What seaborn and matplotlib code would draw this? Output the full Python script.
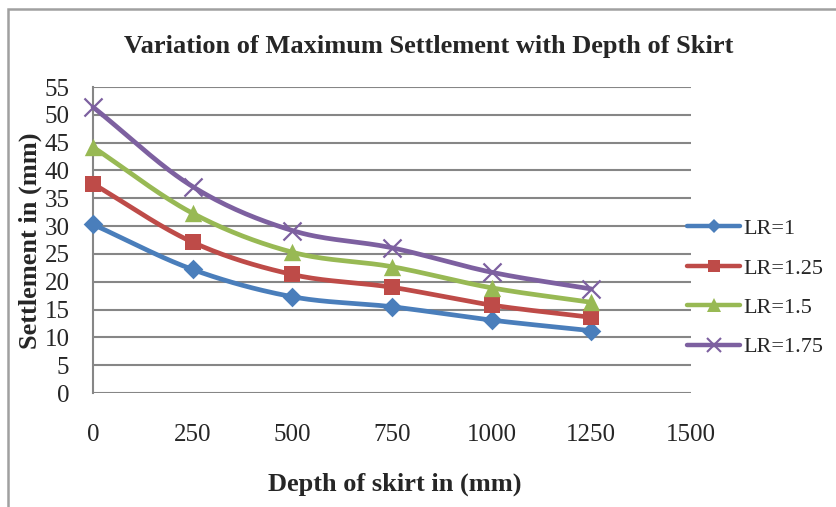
import numpy as np
import pandas as pd
import matplotlib
matplotlib.use("Agg")
import matplotlib.pyplot as plt
from matplotlib.lines import Line2D
from matplotlib.patches import Rectangle
import seaborn as sns

# ---- data ----
depth = [0, 250, 500, 750, 1000, 1250]
lr_1 = [30.3, 22.2, 17.3, 15.5, 13.1, 11.2]
lr_125 = [37.6, 27.1, 21.3, 19.0, 15.8, 13.6]
lr_15 = [44.2, 32.3, 25.3, 22.7, 18.9, 16.3]
lr_175 = [51.4, 37.1, 29.2, 26.1, 21.7, 18.7]
series_names = ["LR=1", "LR=1.25", "LR=1.5", "LR=1.75"]
x_ticks = [0, 250, 500, 750, 1000, 1250, 1500]
y_ticks = list(range(0, 60, 5))

colors = ["#4A7EBB", "#BE4B48", "#98B954", "#7D60A0"]
markers = ["D", "s", "^", "x"]
msizes = [10, 12, 12.5, 13]

sns.set_theme(style="white")
plt.rcParams["font.family"] = ["Liberation Serif", "DejaVu Serif"]

fig = plt.figure(figsize=(8.37, 5.07), dpi=100)
ax = fig.add_axes([93 / 837, 1 - 393 / 507, (691 - 93) / 837, (393 - 87) / 507])


def smooth(xs, ys, n=30):
    # Catmull-Rom style smoothing (like spreadsheet "smoothed line")
    xs = np.asarray(xs, float)
    ys = np.asarray(ys, float)
    px = np.concatenate([[2 * xs[0] - xs[1]], xs, [2 * xs[-1] - xs[-2]]])
    py = np.concatenate([[2 * ys[0] - ys[1]], ys, [2 * ys[-1] - ys[-2]]])
    outx, outy = [], []
    t = np.linspace(0, 1, n, endpoint=False)
    for i in range(1, len(px) - 2):
        p0x, p1x, p2x, p3x = px[i - 1:i + 3]
        p0y, p1y, p2y, p3y = py[i - 1:i + 3]
        for arr, a, b, c, d in ((outx, p0x, p1x, p2x, p3x), (outy, p0y, p1y, p2y, p3y)):
            arr.extend(0.5 * ((2 * b) + (-a + c) * t + (2 * a - 5 * b + 4 * c - d) * t ** 2
                               + (-a + 3 * b - 3 * c + d) * t ** 3))
    outx.append(xs[-1])
    outy.append(ys[-1])
    return np.array(outx), np.array(outy)


all_series = [lr_1, lr_125, lr_15, lr_175]
for name, vals, c, m, ms in zip(series_names, all_series, colors, markers, msizes):
    sx, sy = smooth(depth, vals)
    dfl = pd.DataFrame({"x": sx, "y": sy})
    sns.lineplot(data=dfl, x="x", y="y", ax=ax, color=c, linewidth=3.4,
                 estimator=None, sort=False, legend=False, zorder=3)
    dfp = pd.DataFrame({"x": depth, "y": vals})
    if m == "x":
        sns.scatterplot(data=dfp, x="x", y="y", ax=ax, marker="x", color=c,
                        s=ms ** 2, linewidth=1.6, legend=False, zorder=4)
    else:
        sns.scatterplot(data=dfp, x="x", y="y", ax=ax, marker=m, color=c,
                        s=ms ** 2, edgecolor=c, linewidth=0, legend=False, zorder=4)
for coll in ax.collections:
    coll.set_clip_on(False)
for ln in ax.lines:
    ln.set_clip_on(False)

ax.set_xlim(0, 1500)
ax.set_ylim(0, 55)
ax.set_xticks(x_ticks)
ax.set_yticks(y_ticks)
ax.set_xticklabels([str(v) for v in x_ticks], fontsize=18)
ax.set_yticklabels([str(v) for v in y_ticks], fontsize=18)
ax.tick_params(axis="x", pad=22, length=0)
ax.tick_params(axis="y", pad=17, length=0)
ax.yaxis.grid(True, color="#868686", linewidth=1.5)
ax.xaxis.grid(False)
for s in ["top", "right", "bottom"]:
    ax.spines[s].set_visible(False)
ax.spines["left"].set_color("#868686")
ax.spines["left"].set_linewidth(1.5)
ax.set_xlabel("")
ax.set_ylabel("")
ax.set_axisbelow(True)

fig.text(429 / 837, 1 - 46 / 507, "Variation of Maximum Settlement with Depth of Skirt",
         ha="center", va="center", fontsize=19, fontweight="bold")
fig.text(395 / 837, 1 - 484 / 507, "Depth of skirt in (mm)",
         ha="center", va="center", fontsize=19, fontweight="bold")
fig.text(30 / 837, 1 - 241 / 507, "Settlement in (mm)", rotation=90,
         ha="center", va="center", fontsize=19, fontweight="bold")

handles = [Line2D([0], [0], color=c, linewidth=3.2, marker=m,
                  markersize=(ms * 0.75), markeredgewidth=(1.5 if m == "x" else 0),
                  markerfacecolor=c, markeredgecolor=c)
           for c, m, ms in zip(colors, markers, msizes)]
fig.legend(handles, series_names, loc="center left",
           bbox_to_anchor=(687 / 837, 1 - 288 / 507), frameon=False,
           fontsize=16, handlelength=2.4, handletextpad=0.15,
           labelspacing=0.85, borderaxespad=0, borderpad=0)

fig.patches.append(Rectangle((8 / 837, -0.05), 1.1, 1 - 9 / 507 + 0.05,
                             transform=fig.transFigure, fill=False,
                             edgecolor="#A0A0A0", linewidth=1.8))

fig.savefig("out.png", dpi=100)
